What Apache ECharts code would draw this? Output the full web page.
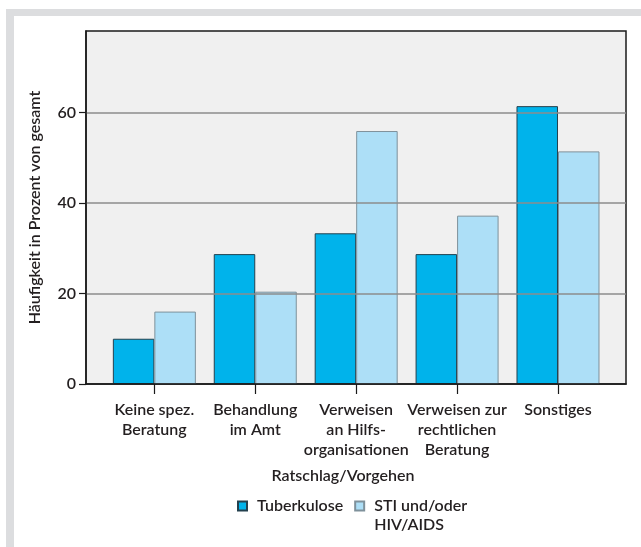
<!DOCTYPE html>
<html>
<head>
<meta charset="utf-8">
<script src="https://cdn.jsdelivr.net/npm/echarts@6/dist/echarts.min.js"></script>
<style>
  html, body { margin: 0; padding: 0; background: #fff; }
  #edge {
    position: absolute; left: 6px; top: 9px; width: 635px; height: 538px;
    border-top: 7px solid #dcdddf; border-left: 8px solid #dcdddf; box-sizing: border-box;
  }
  #chart { position: absolute; left: 0; top: 0; width: 641px; height: 547px; }
</style>
</head>
<body>
<div id="edge"></div>
<div id="chart"></div>
<script>
// Ratschlag/Vorgehen – Häufigkeit in Prozent
const categories = [
  'Keine spez.\nBeratung',
  'Behandlung\nim Amt',
  'Verweisen\nan Hilfs-\norganisationen',
  'Verweisen zur\nrechtlichen\nBeratung',
  'Sonstiges'
];
const tuberkulose = [10, 28.7, 33.3, 28.7, 61.4];
const stiHiv = [16, 20.4, 55.9, 37.2, 51.4];
const seriesNames = ['Tuberkulose', 'STI und/oder HIV/AIDS'];
const yTicks = [0, 20, 40, 60];
const yMax = 78;

const FONT = 'Lato';
const WEIGHT = 600;
const TEXT = '#231f20';

const chart = echarts.init(document.getElementById('chart'), null, { renderer: 'canvas' });

chart.setOption({
  animation: false,
  textStyle: { fontFamily: FONT, color: TEXT },
  title: {
    text: 'Ratschlag/Vorgehen',
    left: 343, top: 466, padding: 0, textAlign: 'center',
    textStyle: { fontFamily: FONT, fontSize: 16, fontWeight: WEIGHT, color: TEXT, lineHeight: 20 }
  },
  legend: {
    left: 237, top: 477.5, padding: 0,
    itemWidth: 9, itemHeight: 9, itemGap: 11,
    icon: 'rect',
    textStyle: { fontFamily: FONT, fontSize: 16, fontWeight: WEIGHT, color: TEXT,
      lineHeight: 19, padding: [0, 0, 0, 5] },
    // the two-line label keeps its first line level with the icon
    formatter: name => name === seriesNames[1] ? '\nSTI und/oder\nHIV/AIDS' : name,
    data: seriesNames
  },
  grid: [
    // framed plot area with gridlines
    { left: 86, right: 15, top: 31, bottom: 163, show: true,
      backgroundColor: '#f0f0f0', borderColor: '#1a1a1a', borderWidth: 1.5 },
    // inner band holding the category groups
    { left: 103.9, right: 32.55, top: 31, bottom: 163 }
  ],
  xAxis: [
    { gridIndex: 0, type: 'value', min: 0, max: 1, z: 5,
      axisLine: { show: true, lineStyle: { color: '#1a1a1a', width: 1.5 } },
      axisTick: { show: false }, axisLabel: { show: false }, splitLine: { show: false } },
    { gridIndex: 1, type: 'category', data: categories,
      axisLine: { show: false },
      axisTick: { show: true, alignWithLabel: true, length: 10,
        lineStyle: { color: '#1a1a1a', width: 1.2 } },
      axisLabel: { interval: 0, margin: 16, fontFamily: FONT, fontSize: 16,
        fontWeight: WEIGHT, lineHeight: 20, color: TEXT } }
  ],
  yAxis: [
    { gridIndex: 0, type: 'value', min: 0, max: yMax, interval: 20, z: 5,
      name: 'Häufigkeit in Prozent von gesamt', nameLocation: 'middle', nameGap: 43,
      nameTextStyle: { fontFamily: FONT, fontSize: 16, fontWeight: WEIGHT, color: TEXT },
      axisLine: { show: true, lineStyle: { color: '#1a1a1a', width: 1.5 } },
      axisTick: { show: true, length: 7, customValues: yTicks,
        lineStyle: { color: '#1a1a1a', width: 1.2 } },
      axisLabel: { margin: 10, fontFamily: FONT, fontSize: 16, fontWeight: WEIGHT,
        color: TEXT, customValues: yTicks },
      splitLine: { show: true, showMinLine: false, showMaxLine: true,
        lineStyle: { color: '#8c8c8c', width: 1.5 } } },
    { gridIndex: 1, type: 'value', min: 0, max: yMax, interval: 20, show: false,
      splitLine: { show: false } }
  ],
  series: [
    { name: seriesNames[0], type: 'bar', xAxisIndex: 1, yAxisIndex: 1,
      data: tuberkulose, barWidth: 41.5, barGap: '0%',
      itemStyle: { color: '#00b3eb', borderColor: '#23404e', borderWidth: 1 } },
    { name: seriesNames[1], type: 'bar', xAxisIndex: 1, yAxisIndex: 1,
      data: stiHiv, barWidth: 41.5, barGap: '0%',
      itemStyle: { color: '#addff7', borderColor: '#7f919b', borderWidth: 1 } }
  ]
});
</script>
</body>
</html>
